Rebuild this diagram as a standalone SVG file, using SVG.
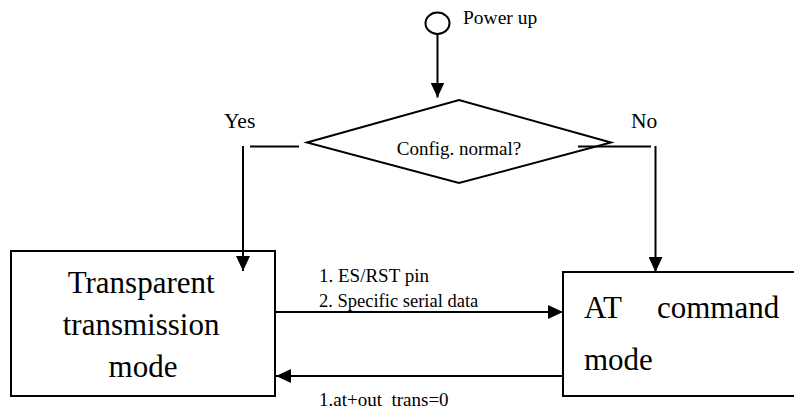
<svg xmlns="http://www.w3.org/2000/svg" width="794" height="410" viewBox="0 0 794 410">
<style>
  .shape { fill: #fff; stroke: #000; stroke-width: 2; }
  .line { fill: none; stroke: #000; stroke-width: 2; }
  .t { font-family: 'Liberation Serif', 'DejaVu Serif', serif; fill: #000; }
  .big { font-size: 31px; }
  .mid { font-size: 21.5px; }
  .small { font-size: 19px; }
</style>
<defs>
  <marker id="arrow" markerUnits="userSpaceOnUse" markerWidth="15" markerHeight="14" refX="15" refY="7" orient="auto">
    <path d="M0,0 L15,7 L0,14 Z" fill="#000"/>
  </marker>
</defs>
<rect width="794" height="410" fill="#fff"/>

<g id="start">
  <ellipse cx="437.5" cy="23.3" rx="12" ry="10.7" class="shape"/>
  <text x="463" y="23.5" class="t" font-family="Liberation Serif, serif" font-size="19.5">Power up</text>
</g>

<g id="decision">
  <polygon points="307,142.5 459,100 611,142.5 459,183" class="shape"/>
  <text x="459" y="155" class="t small" font-family="Liberation Serif, serif" text-anchor="middle">Config. normal?</text>
</g>

<g id="transparent">
  <rect x="11" y="251" width="264" height="145" class="shape"/>
  <text class="t big" font-family="Liberation Serif, serif" text-anchor="middle">
    <tspan x="145" y="293">Transparent</tspan>
    <tspan x="145" y="335">transmission</tspan>
    <tspan x="143" y="377">mode</tspan>
  </text>
</g>

<g id="atcommand">
  <rect x="563" y="272" width="240" height="124" class="shape"/>
  <text class="t big" font-family="Liberation Serif, serif">
    <tspan x="584" y="318">AT</tspan>
    <tspan x="657" y="318">command</tspan>
    <tspan x="584" y="370">mode</tspan>
  </text>
</g>

<g id="connectors">
  <line x1="437.5" y1="34" x2="437.5" y2="97.5" class="line" marker-end="url(#arrow)"/>
  <line x1="250" y1="146.5" x2="299" y2="146.5" class="line"/>
  <line x1="243" y1="146" x2="243" y2="271" class="line" marker-end="url(#arrow)"/>
  <line x1="578" y1="146.5" x2="651" y2="146.5" class="line"/>
  <line x1="655.5" y1="146" x2="655.5" y2="272" class="line" marker-end="url(#arrow)"/>
  <line x1="275" y1="312" x2="563" y2="312" class="line" marker-end="url(#arrow)"/>
  <line x1="563" y1="376" x2="276" y2="376" class="line" marker-end="url(#arrow)"/>
  <text x="224" y="128" class="t mid" font-family="Liberation Serif, serif">Yes</text>
  <text x="631" y="128" class="t mid" font-family="Liberation Serif, serif">No</text>
  <text x="319" y="282" class="t small" font-family="Liberation Serif, serif">1. ES/RST pin</text>
  <text x="319" y="307" class="t" font-family="Liberation Serif, serif" font-size="18.5">2. Specific serial data</text>
  <text x="319" y="406" class="t small" font-family="Liberation Serif, serif" xml:space="preserve" style="white-space:pre">1.at+out  trans=0</text>
</g>
</svg>
